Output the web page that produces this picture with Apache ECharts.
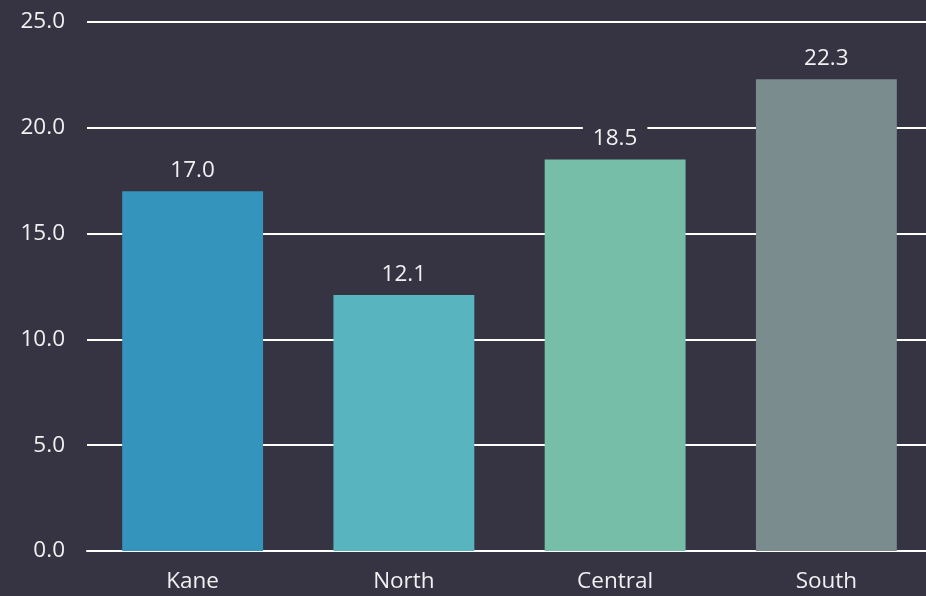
<!DOCTYPE html>
<html><head><meta charset="utf-8">
<script src="https://cdn.jsdelivr.net/npm/echarts@6/dist/echarts.min.js"></script>
<style>html,body{margin:0;padding:0;background:#363343;}#c{width:926px;height:596px;}</style>
</head><body><div id="c"></div>
<script>
const categories = ['Kane', 'North', 'Central', 'South'];
const values = [17.0, 12.1, 18.5, 22.3];
const barColors = ['#3594bb', '#58b5bf', '#76bea8', '#7a8c8e'];
const yTicks = [0, 5, 10, 15, 20, 25];

const chart = echarts.init(document.getElementById('c'), null, {renderer: 'canvas'});
const font = 'Open Sans';
const bg = '#363343';
chart.setOption({
  backgroundColor: bg,
  animation: false,
  grid: {left: 87, width: 845, top: 22, bottom: 45, outerBoundsMode: 'none', containLabel: false},
  xAxis: {
    type: 'category', data: categories,
    axisLine: {show: true, lineStyle: {color: '#ffffff', width: 2}},
    axisTick: {show: false},
    axisLabel: {color: '#f0f0f0', fontSize: 22.5, fontFamily: font, margin: 19}
  },
  yAxis: {
    type: 'value', min: yTicks[0], max: yTicks[yTicks.length - 1], interval: 5,
    axisLine: {show: false}, axisTick: {show: false},
    axisLabel: {color: '#f0f0f0', fontSize: 22.5, fontFamily: font, margin: 22,
      formatter: v => v.toFixed(1)},
    splitLine: {lineStyle: {color: '#ffffff', width: 2}}
  },
  series: [{
    type: 'bar', barWidth: '66.7%',
    data: values.map((v, i) => ({value: v, itemStyle: {color: barColors[i]}})),
    label: {show: true, position: 'top', distance: 9, color: '#f0f0f0', fontSize: 22.5, fontFamily: font,
      backgroundColor: bg, padding: [6, 10, 0, 10],
      formatter: p => p.value.toFixed(1)}
  }]
});
</script></body></html>
